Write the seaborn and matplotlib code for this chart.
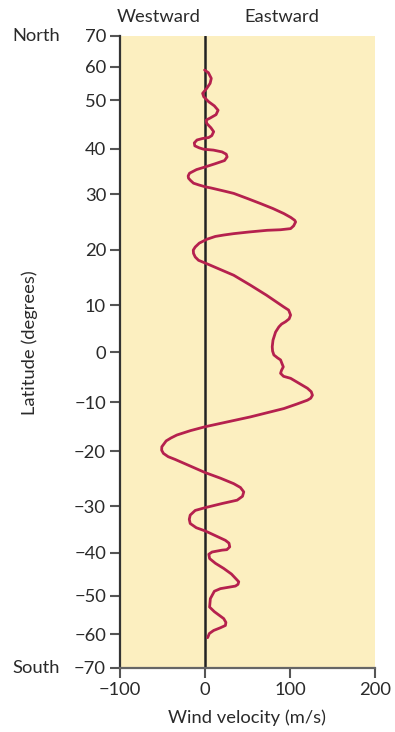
import numpy as np
import pandas as pd
import matplotlib
matplotlib.use("Agg")
import matplotlib.pyplot as plt
import matplotlib.transforms as mtransforms
import seaborn as sns

# ---- data (wind velocity m/s, latitude degrees), in drawing order ----
velocity = [-0.5, 4.0, 7.4, 6.0, 2.0, -2.8, -1.5, 4.3, 11.0, 15.4, 13.0, 6.0, 1.5, 2.0, 7.0,
            10.2, 8.0, 4.3, -3.0, -9.4, -12.6, -12.0, -7.0, -1.7, 10.0, 20.1, 25.0, 26.0, 23.0,
            12.0, 0.4, -10.0, -18.2, -19.8, -19.4, -17.0, -13.5, -7.0, 0.4, 7.0, 15.0, 24.0, 33.8, 50.0,
            65.3, 80.0, 92.8, 101.0, 105.5, 106.6, 104.3, 100.7, 88.9, 73.2, 52.0, 33.8, 22.0, 12.2, 2.4,
            -6.7, -11.5, -13.8, -13.5, -11.5, -7.6, 0.4, 15.7, 33.8, 53.5, 72.3, 92.8, 98.4,
            100.7, 99.0, 94.8, 90.1, 86.9, 83.0, 80.0, 79.1, 79.5, 81.0, 85.4, 88.9, 92.1, 90.0,
            88.9, 92.4, 100.7, 120.5, 125.0, 126.4, 124.4, 120.5, 107.8, 92.8, 53.5, 27.0, 0.4, -17.0, -33.1,
            -40.0, -45.7, -50.8, -51.0, -48.9, -43.3, -35.1, -17.4, 0.4, 18.1, 33.8, 41.7, 45.6, 44.1,
            37.8, 20.4, 0.4, -11.5, -17.4, -18.5, -17.4, -10.3, 0.4, 24.0, 28.2, 29.1, 25.7,
            20.1, 8.3, 4.5, 5.4, 12.2, 22.0, 31.1, 39.7, 38.8, 35.8, 18.1, 11.0, 6.3, 5.4, 11.0,
            22.0, 24.6, 24.0, 18.1, 10.2, 5.1, 3.1]
latitude = [59.0, 58.2, 56.5, 55.0, 53.5, 52.0, 51.0, 49.65, 48.8, 47.9, 47.0, 46.3, 45.9, 45.2,
            44.3, 43.5, 42.7, 42.3, 42.1, 41.8, 41.2, 40.6, 40.2, 39.9, 39.7, 39.3, 38.8, 38.2,
            37.4, 36.7, 36.0, 35.4, 34.6, 34.0, 33.5, 33.0, 32.4, 32.0, 31.6, 31.35, 31.0, 30.6, 30.15, 29.2,
            28.3, 27.4, 26.5, 25.8, 25.3, 25.0, 24.3, 23.8, 23.6, 23.5, 23.2, 22.9, 22.65, 22.4, 21.9,
            21.2, 20.5, 19.95, 19.35, 18.7, 18.1, 17.6, 16.6, 15.4, 13.6, 11.8, 9.6, 8.95,
            7.9, 7.1, 6.5, 6.0, 5.4, 4.3, 2.6, 1.2, 0.3, -0.5, -1.1, -1.5, -2.9, -3.6,
            -4.2, -4.8, -5.2, -7.2, -7.9, -8.6, -9.2, -9.6, -10.4, -11.3, -13.0, -14.0, -15.0, -15.8, -16.7,
            -17.3, -17.9, -19.1, -19.8, -20.4, -21.0, -21.5, -22.7, -23.9, -24.9, -25.9, -26.6, -27.4, -28.2,
            -28.9, -29.5, -30.3, -30.9, -31.9, -32.8, -33.7, -34.6, -35.3, -37.3, -37.9, -38.7, -39.3,
            -39.4, -39.8, -40.3, -41.3, -42.4, -43.6, -44.9, -46.7, -47.3, -47.7, -48.3, -48.9, -50.7, -52.9, -54.1,
            -55.9, -56.9, -57.7, -58.3, -59.0, -59.8, -61.0]

lat_ticks = [-70, -60, -50, -40, -30, -20, -10, 0, 10, 20, 30, 40, 50, 60, 70]
x_ticks = [-100, 0, 100, 200]
# the printed latitude axis is not evenly spaced; relative tick spacing of the original
lat_tick_spacing = [0, 33.7, 72.0, 115.0, 161.7, 216.7, 265.7, 315.4, 362.7, 418.0, 473.7, 519.0, 567.7, 601.0, 631.7]

df = pd.DataFrame({"velocity": velocity, "latitude": latitude})

sns.set_theme(style="white")
plt.rcParams['font.family'] = ['Lato', 'DejaVu Sans']

fig = plt.figure(figsize=(3.95, 7.32), dpi=100)
ax = fig.add_axes([120/395, 1 - 668/732, 255/395, 632/732])
ax.set_facecolor("#FCEFC0")

fwd_x = np.array(lat_ticks, dtype=float)
fwd_y = np.array(lat_tick_spacing, dtype=float)

def forward(v):
    return np.interp(v, fwd_x, fwd_y)

def inverse(v):
    return np.interp(v, fwd_y, fwd_x)

ax.set_yscale("function", functions=(forward, inverse))

ax.axvline(0, color="#222222", lw=1.8, zorder=2)
sns.lineplot(data=df, x="velocity", y="latitude", sort=False, estimator=None,
             color="#B5214E", lw=2.0, ax=ax, zorder=3, solid_joinstyle="round",
             solid_capstyle="round")

ax.set_xlim(-100, 200)
ax.set_ylim(-70, 70)
ax.set_yticks(lat_ticks)
ax.set_yticklabels([("\u2212" + str(-t)) if t < 0 else str(t) for t in lat_ticks])
ax.set_xticks(x_ticks)
ax.set_xticklabels([("\u2212" + str(-t)) if t < 0 else str(t) for t in x_ticks])

for s in ["top", "right"]:
    ax.spines[s].set_visible(False)
ax.spines["left"].set_color("#333333")
ax.spines["left"].set_linewidth(1.6)
ax.spines["bottom"].set_color("#666666")
ax.spines["bottom"].set_linewidth(1.6)

fs = 13.2
ax.tick_params(axis="y", direction="out", length=7, width=1.5, color="#555555",
               pad=3, labelsize=fs, labelcolor="#2a2a2a", left=True)
ax.tick_params(axis="x", direction="out", length=7, width=1.5, color="#555555",
               pad=3, labelsize=fs, labelcolor="#2a2a2a", bottom=True)

ax.set_xlabel("Wind velocity (m/s)", fontsize=fs, color="#2a2a2a")
ax.set_ylabel("Latitude (degrees)", fontsize=fs, color="#2a2a2a")
ax.xaxis.set_label_coords(0.5, -0.066)
ax.yaxis.set_label_coords(-0.32, 0.515)

trans_y = mtransforms.blended_transform_factory(ax.transAxes, ax.transData)
ax.text(-0.235, 70, "North", transform=trans_y, ha="right", va="center", fontsize=fs, color="#2a2a2a")
ax.text(-0.235, -70, "South", transform=trans_y, ha="right", va="center", fontsize=fs, color="#2a2a2a")

trans_x = mtransforms.blended_transform_factory(ax.transData, ax.transAxes)
ax.text(-55, 1.03, "Westward", transform=trans_x, ha="center", va="center", fontsize=fs, color="#2a2a2a")
ax.text(90, 1.03, "Eastward", transform=trans_x, ha="center", va="center", fontsize=fs, color="#2a2a2a")

fig.savefig("out.png", dpi=100)
